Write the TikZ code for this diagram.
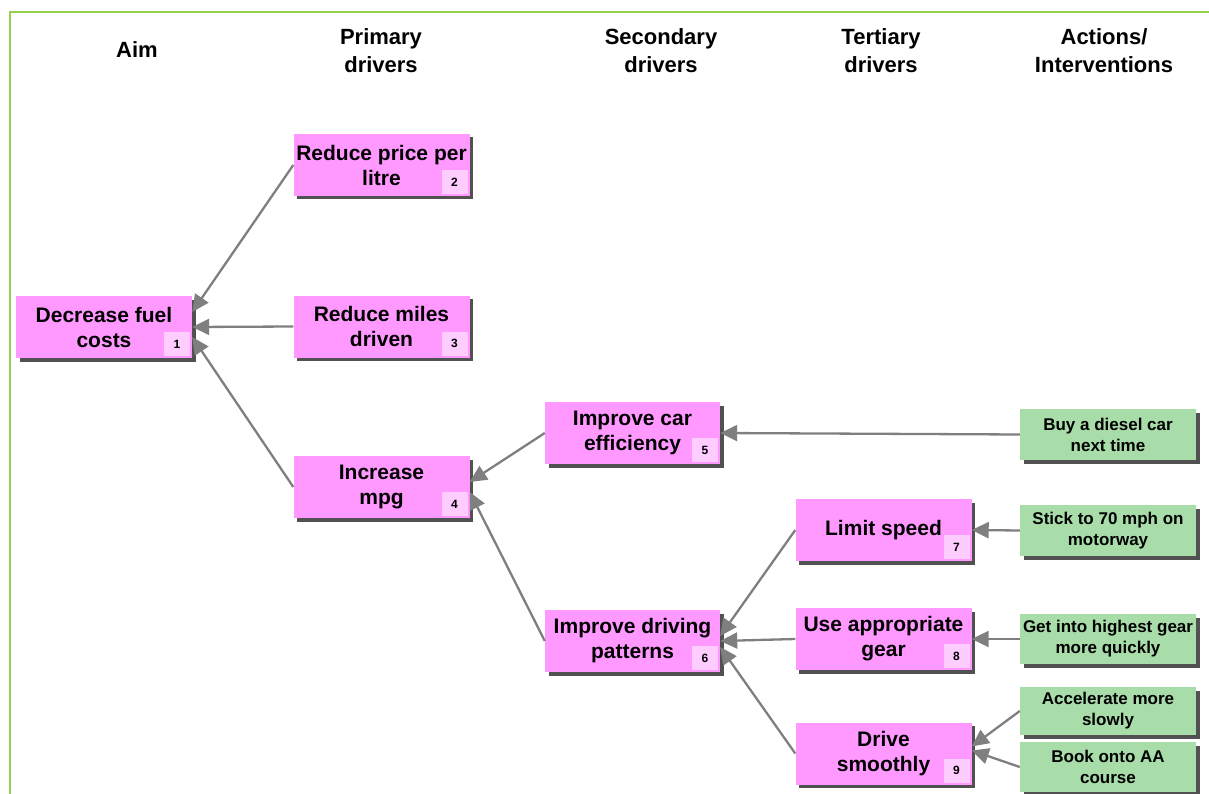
\documentclass[tikz,border=0pt]{standalone}
\usepackage{fontspec}
\setmainfont{Liberation Sans}
\usetikzlibrary{shadows,arrows.meta}
\definecolor{pinkbox}{HTML}{FF99FF}
\definecolor{pinkbadge}{HTML}{FFCCFF}
\definecolor{greenbox}{HTML}{A8DDAA}
\definecolor{framegreen}{HTML}{92D050}
\definecolor{arrowgray}{HTML}{7F7F7F}
\tikzset{
  boxshadow/.style={drop shadow={shadow xshift=3.5pt,shadow yshift=-3.5pt,fill=black!80,opacity=0.85}},
  driver/.style={rectangle,fill=pinkbox,boxshadow,inner sep=0pt,minimum width=176pt,minimum height=62pt,align=center,font=\fontsize{21}{25}\selectfont\bfseries},
  action/.style={rectangle,fill=greenbox,boxshadow,inner sep=0pt,minimum width=176pt,minimum height=50pt,align=center,font=\fontsize{17}{21}\selectfont\bfseries},
  badge/.style={rectangle,fill=pinkbadge,inner sep=0pt,minimum width=26pt,minimum height=24pt,anchor=south east,font=\fontsize{12}{14}\selectfont\bfseries},
  header/.style={align=center,font=\fontsize{22}{28}\selectfont\bfseries},
  conn/.style={draw=arrowgray,line width=2.3pt,-{Triangle[length=17pt,width=16pt]}}
}
\begin{document}
\begin{tikzpicture}[x=1pt,y=-1pt]
\useasboundingbox (0,0) rectangle (1209,794);
\draw[framegreen,line width=2pt] (10,794) -- (10,12) -- (1209,12);
% headers
\node[header] (h1) at (137,50) {Aim};
\node[header] (h2) at (381,51) {Primary\\drivers};
\node[header] (h3) at (661,51) {Secondary\\drivers};
\node[header] (h4) at (881,51) {Tertiary\\drivers};
\node[header] (h5) at (1104,51) {Actions/\\Interventions};
% drivers
\node[driver] (n1) at (104,327) {Decrease fuel\\costs};
\node[driver] (n2) at (381.5,165) {Reduce price per\\litre};
\node[driver] (n3) at (381.5,326.5) {Reduce miles\\driven};
\node[driver] (n4) at (381.5,487) {Increase\\mpg};
\node[driver,minimum width=175pt] (n5) at (632.5,433) {Improve car\\efficiency};
\node[driver,minimum width=175pt] (n6) at (632.5,641) {Improve driving\\patterns};
\node[driver] (n7) at (883.5,530) {Limit speed};
\node[driver] (n8) at (883.5,639) {Use appropriate\\gear};
\node[driver] (n9) at (883.5,753.5) {Drive\\smoothly};
% badges
\foreach \i in {1,...,9} {
  \node[badge] (b\i) at ([xshift=-2pt,yshift=2pt]n\i.south east) {\i};
}
% actions
\node[action,minimum height=51pt] (g1) at (1108,434.5) {Buy a diesel car\\next time};
\node[action,minimum height=51pt] (g2) at (1108,530.5) {Stick to 70 mph on\\motorway};
\node[action] (g3) at (1108,639) {Get into highest gear\\more quickly};
\node[action,minimum height=48pt] (g4) at (1108,711) {Accelerate more\\slowly};
\node[action] (g5) at (1108,767) {Book onto AA\\course};
% connectors
\draw[conn] (n2.west) -- ([yshift=15pt]n1.east);
\draw[conn] (n3.west) -- (n1.east);
\draw[conn] (n4.west) -- ([yshift=-10pt]n1.east);
\draw[conn] (n5.west) -- ([yshift=5pt]n4.east);
\draw[conn] (n6.west) -- ([yshift=-5pt]n4.east);
\draw[conn] (g1.west) -- (n5.east);
\draw[conn] (n7.west) -- ([yshift=5pt]n6.east);
\draw[conn] (n8.west) -- (n6.east);
\draw[conn] (n9.west) -- ([yshift=-6pt]n6.east);
\draw[conn] (g2.west) -- (n7.east);
\draw[conn] (g3.west) -- (n8.east);
\draw[conn] (g4.west) -- ([yshift=7pt]n9.east);
\draw[conn] (g5.west) -- ([yshift=3pt]n9.east);
\end{tikzpicture}
\end{document}
